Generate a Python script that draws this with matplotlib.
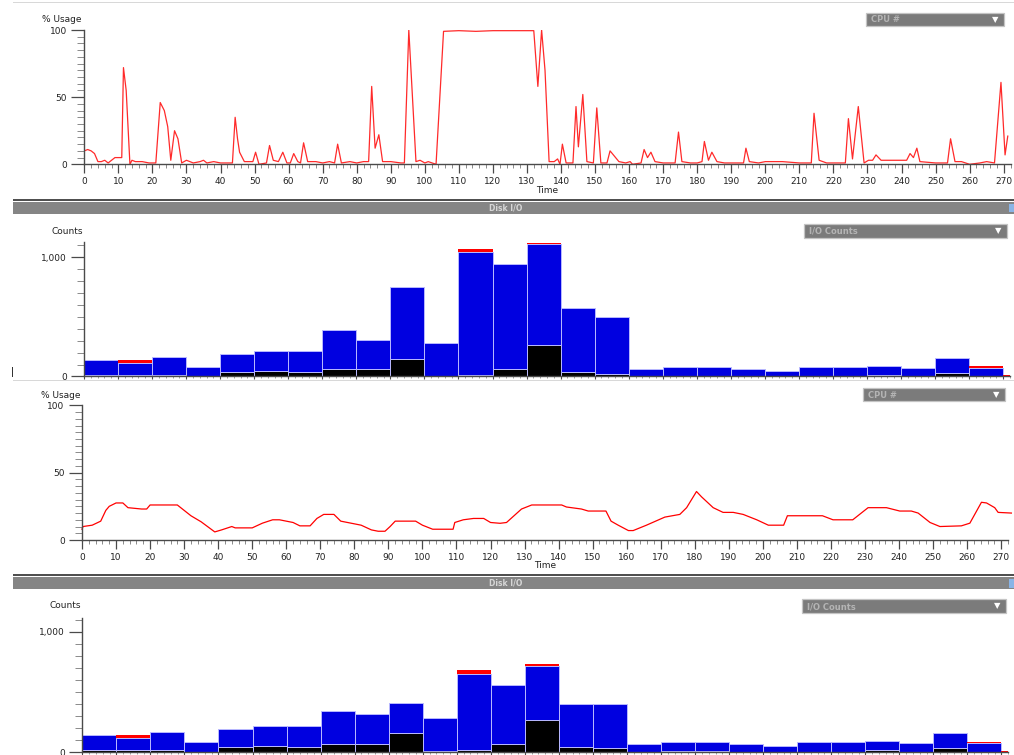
import matplotlib.pyplot as plt
from matplotlib.patches import Rectangle
from matplotlib.ticker import MultipleLocator, FuncFormatter

W, H = 1014, 755

# upper CPU trace (% usage against time)
cpu1_t = [0, 1, 2, 3, 4, 5, 6, 7, 8, 9, 10, 11, 11.5, 12.3, 13.4, 14, 15, 17, 19, 21,
          22.3, 23.5, 24.5, 25.4, 26.5, 27.5, 28.6, 30, 32, 34, 35, 36, 38, 40, 43.5,
          44.3, 45, 45.6, 47, 49.5, 50.3, 51.3, 53.5, 54.4, 55.5, 57, 58.3, 59.5, 60.5,
          61.5, 62.7, 63.5, 64.4, 65.6, 68, 70, 72, 73.5, 74.4, 75.5, 78, 80, 82, 83.5,
          84.4, 85.4, 86.5, 87.6, 90, 93, 94, 95.3, 97.4, 98.6, 100, 101, 103.3, 105.5,
          110, 115, 120, 125, 130, 132, 133.2, 134.3, 135.3, 136.5, 138, 139, 139.7,
          140.4, 141.5, 143.5, 144.4, 145.1, 146.4, 147.6, 149.5, 150.5, 151.7, 153.5,
          154.4, 157, 159, 160.3, 161, 163.5, 164.4, 165.4, 166.4, 167.6, 170, 173.5,
          174.5, 175.5, 178, 180, 181.4, 182.1, 183.3, 184.3, 185.8, 188, 190, 193.6,
          194.3, 195.3, 198, 200, 205, 210, 213.5, 214.3, 215.8, 218, 223.5, 224.4,
          225.6, 227.3, 229, 230.3, 231.5, 232.5, 234, 240, 241.5, 242.5, 243.5, 244.5,
          245.4, 250, 253.5, 254.4, 255.7, 257.6, 260, 263, 265, 267.3, 269.2, 270.4, 271.2]
cpu1_v = [10, 11, 10, 8, 2, 2, 3, 1, 3, 5, 5, 5, 72, 55, 0, 3, 2, 2, 1, 1,
          46, 40, 28, 3, 25, 19, 1, 3, 1, 2, 3, 1, 2, 1, 1,
          35, 19, 9, 2, 2, 9, 0, 1, 14, 3, 2, 9, 1, 1,
          8, 2, 1, 16, 2, 2, 1, 2, 1, 15, 1, 2, 1, 2, 2,
          58, 12, 22, 2, 2, 1, 1, 100, 2, 3, 1, 2, 0, 99,
          99.5, 99, 99.5, 99.5, 99.5, 99.5, 58, 100, 70, 2, 2, 4, 0,
          15, 1, 1, 43, 13, 52, 2, 1, 42, 1, 1,
          10, 2, 1, 2, 0, 1, 11, 5, 9, 2, 1, 1,
          24, 2, 1, 1, 2, 17, 3, 9, 2, 1, 1, 1,
          12, 2, 1, 2, 2, 1, 1, 38, 3, 1, 1, 34,
          4, 43, 1, 3, 3, 7, 3, 3, 3, 8, 5, 12,
          2, 1, 1, 19, 2, 2, 0, 1, 2, 1, 61, 7, 21]

# lower CPU trace
cpu2_t = [0, 0.3, 3, 5.5, 7, 8, 10, 12, 13.5, 17.5, 19, 20, 28, 32, 35, 39, 41, 44, 45,
          50, 53, 56, 58, 62, 64, 67, 69, 71, 74, 76, 79, 82, 85, 87, 89, 90.5, 92, 98,
          100, 103, 109, 109.5, 112, 115, 118, 120, 122.8, 124.7, 129.1, 132.1, 140.9,
          142.3, 146.7, 148.7, 153.9, 155.4, 157.5, 160.5, 161.9, 165.8, 171.2, 175.6,
          177.6, 180.5, 182, 185.4, 188.3, 191.3, 194.2, 198.2, 201.6, 206.1, 207.2,
          217.5, 220.6, 226.4, 228.9, 230.9, 236.3, 240.2, 243.6, 245.6, 249.1, 252,
          258.3, 260.8, 264.2, 265.7, 268.1, 269.1, 273]
cpu2_v = [8, 10, 11, 14, 22, 25, 27.5, 27.5, 24, 23, 23, 26, 26, 18, 13.5, 6, 7.5, 10, 9,
          9, 12.5, 15, 15, 13, 10.5, 10.5, 16, 19, 19, 14, 12.5, 11, 7.5, 6.5, 6.5, 10, 14, 14,
          11, 8, 8, 13, 15, 16, 16, 13, 12.4, 13, 23, 26, 26,
          24.5, 23, 21.5, 21.5, 14, 11, 7, 7, 11, 17, 19,
          24, 36, 32, 24, 20.5, 20.5, 19, 15, 11, 11, 18,
          18, 15, 15, 20, 24, 24, 21.5, 21.5, 20, 13, 10,
          10.5, 12.5, 28, 27.5, 24, 20.5, 20]

# disk I/O bins
io_start = [0, 10, 20, 30, 40, 50, 60, 70, 80, 90, 100, 110, 120, 130, 140,
            150, 160, 170, 180, 190, 200, 210, 220, 230, 240, 250, 260, 270]
io_width = [10] * 27 + [2]

io1_black = [14, 14, 14, 4, 34, 42, 34, 65, 65, 149, 5, 14, 59, 260, 34,
             25, 3, 8, 5, 3, 3, 3, 3, 14, 3, 28, 3, 0]
io1_top = [140, 109, 162, 76, 185, 210, 210, 392, 308, 753, 280, 1041, 943, 1109, 577,
           501, 59, 76, 76, 59, 45, 76, 76, 90, 70, 151, 73, 0]
io1_red = [0, 31, 0, 0, 0, 0, 0, 0, 0, 0, 0, 31, 0, 14, 0,
           0, 0, 0, 0, 0, 0, 0, 0, 0, 0, 0, 11, 12]

io2_black = [14, 14, 14, 4, 39, 47, 39, 69, 69, 156, 5, 14, 64, 267, 39,
             33, 3, 8, 5, 3, 3, 3, 3, 14, 3, 33, 3, 0]
io2_top = [144, 114, 167, 81, 189, 214, 214, 342, 314, 408, 283, 653, 556, 719, 403,
           403, 64, 81, 81, 64, 53, 81, 81, 92, 75, 156, 78, 0]
io2_red = [0, 30, 0, 0, 0, 0, 0, 0, 0, 0, 0, 30, 0, 12, 0,
           0, 0, 0, 0, 0, 0, 0, 0, 0, 0, 0, 8, 12]

FS = 6.5
TXT = '#222222'
AX = '#4a4a4a'

fig = plt.figure(figsize=(W / 100, H / 100), dpi=100)
fig.patch.set_facecolor('white')


def px_axes(left, right, zero, top):
    return fig.add_axes([left / W, 1 - zero / H, (right - left) / W, (zero - top) / H])


def rect(x0, y0, x1, y1, **kw):
    r = Rectangle((x0 / W, 1 - y1 / H), (x1 - x0) / W, (y1 - y0) / H,
                  transform=fig.transFigure, **kw)
    fig.patches.append(r)


def style(ax, ymax, ymajor, yminor, xlabels=True):
    ax.set_xlim(0, 272)
    ax.set_ylim(0, ymax)
    for s in ['top', 'right']:
        ax.spines[s].set_visible(False)
    for s in ['left', 'bottom']:
        ax.spines[s].set_color(AX)
        ax.spines[s].set_linewidth(1.0)
    ax.patch.set_alpha(0)
    ax.yaxis.set_major_locator(MultipleLocator(ymajor))
    ax.yaxis.set_minor_locator(MultipleLocator(yminor))
    ax.xaxis.set_major_locator(MultipleLocator(10))
    ax.xaxis.set_minor_locator(MultipleLocator(2))
    ax.tick_params(axis='y', which='major', length=9.5, width=0.9, color=AX,
                   labelsize=FS, labelcolor=TXT, pad=3)
    ax.tick_params(axis='y', which='minor', length=5, width=0.6, color='#777777')
    if xlabels:
        ax.tick_params(axis='x', which='major', length=6.5, width=0.9, color=AX,
                       labelsize=FS, labelcolor=TXT, pad=2.5)
        ax.tick_params(axis='x', which='minor', length=3, width=0.6, color='#777777')
    else:
        ax.tick_params(axis='x', which='major', length=2.5, width=0.8, color=AX,
                       labelbottom=False)
        ax.tick_params(axis='x', which='minor', length=1.5, width=0.5, color='#777777')


def dropdown(x0, y0, x1, y1, label):
    rect(x0, y0, x1, y1, facecolor='#7b7b7b', edgecolor='#c4c4c4', linewidth=0.9)
    fig.text((x0 + 5) / W, 1 - ((y0 + y1) / 2 + 0.5) / H, label, fontsize=6,
             fontweight='bold', color='#b4b4b4', va='center', ha='left')
    fig.text((x1 - 9) / W, 1 - ((y0 + y1) / 2) / H, '\u25bc', fontsize=6,
             color='white', va='center', ha='center')


def header(y_line, y0, y1, ytext):
    rect(13, y_line, 1014, y_line + 2, facecolor='#505050', edgecolor='none')
    rect(13, y0, 1014, y1, facecolor='#858585', edgecolor='none')
    rect(1009, y0 + 1.5, 1014, y1 - 1.5, facecolor='#8ab4e6', edgecolor='none')
    fig.text(506 / W, 1 - ytext / H, 'Disk I/O', fontsize=5.5, fontweight='bold',
             color='#d6d6d6', ha='center', va='center')


def disk(ax, black, top, red):
    blue = [t - b for t, b in zip(top, black)]
    ax.bar(io_start, black, width=io_width, align='edge', color='black',
           edgecolor='#b8b8ff', linewidth=0.7)
    ax.bar(io_start, blue, width=io_width, bottom=black, align='edge', color='#0000e0',
           edgecolor='#b8b8ff', linewidth=0.7)
    ax.bar(io_start, red, width=io_width, bottom=top, align='edge', color='#ff0000',
           edgecolor='none')
    ax.yaxis.set_major_formatter(FuncFormatter(lambda v, p: f'{int(v):,}'))


# frame lines
rect(13, 2, 1014, 3, facecolor='#d8d8d8', edgecolor='none')
rect(13, 379.5, 1014, 380.5, facecolor='#d8d8d8', edgecolor='none')
header(199, 202, 213.5, 208)
header(573.5, 577, 589, 583.5)
rect(11.5, 367, 13, 377, facecolor='#333333', edgecolor='none')

# panel 1: CPU
ax1 = px_axes(84.3, 1010.5, 164.3, 30)
style(ax1, 100, 50, 5)
ax1.plot(cpu1_t, cpu1_v, color='#ff2a2a', linewidth=0.9)
ax1.set_xlabel('Time', fontsize=FS, color=TXT, labelpad=0)
fig.text(42 / W, 1 - 19 / H, '% Usage', fontsize=FS, color=TXT, va='center')
dropdown(866, 13, 1004, 26, 'CPU #')

# panel 2: disk I/O
ax2 = px_axes(84, 1010, 376.5, 241.7)
style(ax2, 1130, 1000, 100, xlabels=False)
disk(ax2, io1_black, io1_top, io1_red)
fig.text(52 / W, 1 - 231 / H, 'Counts', fontsize=FS, color=TXT, va='center')
dropdown(804, 224, 1007, 237.5, 'I/O Counts')

# panel 3: CPU
ax3 = px_axes(82, 1008, 540, 405.3)
style(ax3, 100, 50, 5)
ax3.plot(cpu2_t, cpu2_v, color='#ff0000', linewidth=0.9, clip_on=False)
ax3.set_xlabel('Time', fontsize=FS, color=TXT, labelpad=0)
fig.text(41 / W, 1 - 395 / H, '% Usage', fontsize=FS, color=TXT, va='center')
dropdown(863, 388, 1005, 401, 'CPU #')

# panel 4: disk I/O
ax4 = px_axes(82.3, 1008.3, 752, 617.7)
style(ax4, 1119, 1000, 100, xlabels=False)
disk(ax4, io2_black, io2_top, io2_red)
fig.text(50 / W, 1 - 606 / H, 'Counts', fontsize=FS, color=TXT, va='center')
dropdown(802, 599, 1006, 613, 'I/O Counts')

fig.savefig('out.png', dpi=100)
